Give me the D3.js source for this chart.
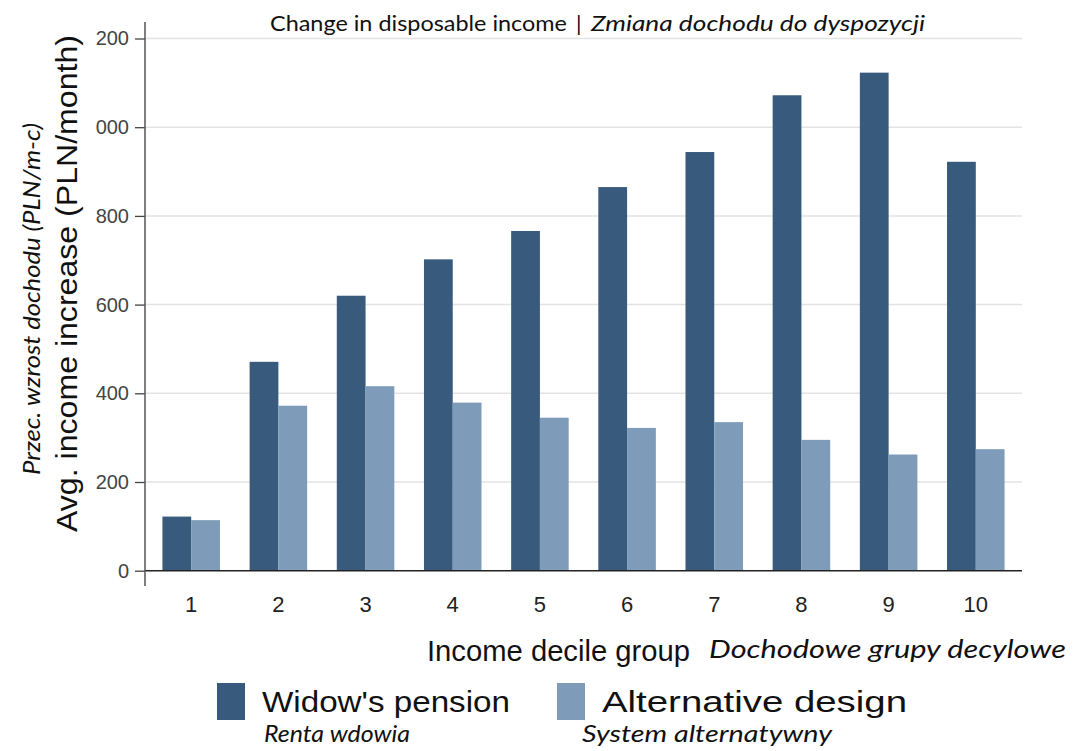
<!DOCTYPE html>
<html lang="en">
<head>
  <meta charset="UTF-8">
  <title>Change in disposable income</title>
  <script src="https://cdn.jsdelivr.net/npm/d3@7"></script>
  <style>
    body { margin: 0; background: #fff; }
    svg { display: block; }
  </style>
</head>
<body>
<div id="chart"></div>
<script>
  // data
  const deciles = ['1', '2', '3', '4', '5', '6', '7', '8', '9', '10']
  const widowPension = [122, 471, 620, 702, 766, 865, 944, 1072, 1123, 922]
  const alternativeDesign = [114, 372, 416, 379, 345, 322, 335, 295, 262, 274]
  const yTicks = [0, 200, 400, 600, 800, 1000, 1200]
  // the original image has the leading "1" of the two top labels cut off
  const yTickLabels = ['0', '200', '400', '600', '800', '000', '200']
  const seriesNames = ['Widow\'s pension', 'Alternative design']
  const seriesNamesPl = ['Renta wdowia', 'System alternatywny']
  const colors = ['#385a7c', '#7e9cba']

  const width = 1074
  const height = 751
  const plotLeft = 145
  const plotRight = 1022
  const plotTop = 38.5
  const plotBottom = 570.7

  const calibri = 'Lato, "Open Sans", sans-serif'
  const arial = '"Liberation Sans", Arial, sans-serif'

  // the source picture is a bit stretched sideways, so texts get a fixed length
  const stretch = (sel, len) => sel.attr('textLength', len).attr('lengthAdjust', 'spacingAndGlyphs')

  const svg = d3.select('#chart')
  .append('svg')
  .attr('width', width)
  .attr('height', height)

  const x = d3.scaleBand()
  .domain(deciles)
  .range([plotLeft, plotRight])
  .paddingInner(0.34)
  .paddingOuter(0.2)

  const xSub = d3.scaleBand()
  .domain([0, 1])
  .range([0, x.bandwidth()])

  const y = d3.scaleLinear()
  .domain([0, 1200])
  .range([plotBottom, plotTop])

  // gridlines
  svg.append('g')
  .selectAll('line')
  .data(yTicks.filter(d => d > 0))
  .join('line')
  .attr('x1', plotLeft)
  .attr('x2', plotRight)
  .attr('y1', d => y(d))
  .attr('y2', d => y(d))
  .attr('stroke', '#e3e3e3')
  .attr('stroke-width', 1.5)

  // bars
  const rows = deciles.map((d, i) => ({decile: d, values: [widowPension[i], alternativeDesign[i]]}))

  svg.append('g')
  .selectAll('g')
  .data(rows)
  .join('g')
  .attr('transform', d => `translate(${x(d.decile)},0)`)
  .selectAll('rect')
  .data(d => d.values.map((v, k) => ({v, k})))
  .join('rect')
  .attr('x', d => xSub(d.k))
  .attr('width', xSub.bandwidth())
  .attr('y', d => y(d.v))
  .attr('height', d => y(0) - y(d.v))
  .attr('fill', d => colors[d.k])

  // zero line
  svg.append('line')
  .attr('x1', plotLeft)
  .attr('x2', plotRight)
  .attr('y1', y(0))
  .attr('y2', y(0))
  .attr('stroke', '#222')
  .attr('stroke-width', 1.5)

  // y axis
  const yAxis = svg.append('g')
  .attr('transform', `translate(${plotLeft},0)`)
  .call(d3.axisLeft(y).tickValues(yTicks).tickFormat((d, i) => yTickLabels[i]).tickSize(10).tickPadding(6))
  .call(g => g.select('.domain').remove())
  .call(g => g.selectAll('.tick line').attr('stroke', '#444').attr('stroke-width', 1.3))
  .call(g => g.selectAll('.tick text')
  .attr('font-family', arial)
  .attr('font-size', 20)
  .attr('fill', '#444'))

  yAxis.append('line')
  .attr('y1', 22)
  .attr('y2', 586)
  .attr('stroke', '#555')
  .attr('stroke-width', 1.5)

  // x axis labels
  svg.append('g')
  .attr('transform', `translate(0,${plotBottom})`)
  .call(d3.axisBottom(x).tickSize(0).tickPadding(26))
  .call(g => g.select('.domain').remove())
  .call(g => g.selectAll('.tick text')
  .attr('font-family', arial)
  .attr('font-size', 22)
  .attr('fill', '#222'))

  // title
  const titleText = (tx, txt, italic, len) => {
    const t = svg.append('text')
    .attr('x', tx)
    .attr('y', 31)
    .attr('font-family', calibri)
    .attr('font-size', 22)
    .attr('font-style', italic ? 'italic' : 'normal')
    .attr('fill', '#111')
    .text(txt)
    if (len) stretch(t, len)
  }
  titleText(270, 'Change in disposable income', false, 297)
  titleText(576, '|', false, 0)
  titleText(591, 'Zmiana dochodu do dyspozycji', true, 334)

  // y titles
  svg.append('text')
  .attr('transform', 'translate(77,532) rotate(-90)')
  .attr('font-family', arial)
  .attr('font-size', 29)
  .attr('fill', '#111')
  .text('Avg. income increase (PLN/month)')
  .call(stretch, 497)

  svg.append('text')
  .attr('transform', 'translate(40,475) rotate(-90)')
  .attr('font-family', calibri)
  .attr('font-style', 'italic')
  .attr('font-size', 23)
  .attr('fill', '#111')
  .text('Przec. wzrost dochodu (PLN/m-c)')
  .call(stretch, 352)

  // x titles
  svg.append('text')
  .attr('x', 427)
  .attr('y', 661)
  .attr('font-family', arial)
  .attr('font-size', 29)
  .attr('fill', '#111')
  .text('Income decile group')
  .call(stretch, 263)

  svg.append('text')
  .attr('x', 709)
  .attr('y', 658)
  .attr('font-family', calibri)
  .attr('font-style', 'italic')
  .attr('font-size', 26)
  .attr('fill', '#111')
  .text('Dochodowe grupy decylowe')
  .call(stretch, 357)

  // legend
  const legendX = [217, 557]
  const legendLen = [248, 305]
  const legendPlX = [47, 25]
  const legendPlLen = [146, 250]

  const legend = svg.append('g')
  .selectAll('g')
  .data(seriesNames)
  .join('g')
  .attr('transform', (d, i) => `translate(${legendX[i]},683)`)

  legend.append('rect')
  .attr('width', 28)
  .attr('height', 37)
  .attr('fill', (d, i) => colors[i])

  legend.append('text')
  .attr('x', 45)
  .attr('y', 29)
  .attr('font-family', arial)
  .attr('font-size', 30)
  .attr('fill', '#111')
  .text(d => d)
  .attr('textLength', (d, i) => legendLen[i])
  .attr('lengthAdjust', 'spacingAndGlyphs')

  legend.append('text')
  .attr('x', (d, i) => legendPlX[i])
  .attr('y', 59)
  .attr('font-family', calibri)
  .attr('font-style', 'italic')
  .attr('font-size', 24)
  .attr('fill', '#111')
  .text((d, i) => seriesNamesPl[i])
  .attr('textLength', (d, i) => legendPlLen[i])
  .attr('lengthAdjust', 'spacingAndGlyphs')
</script>
</body>
</html>
